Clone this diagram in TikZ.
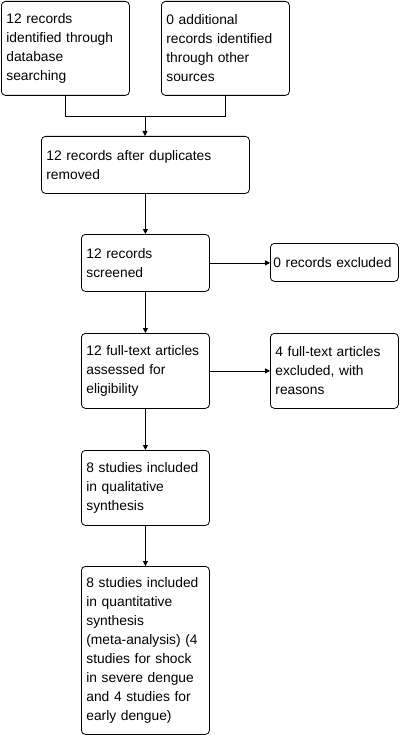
\documentclass[tikz,border=0pt]{standalone}
\usepackage{fontspec}
\setmainfont{Liberation Sans}
\usepackage{tikz}
\usetikzlibrary{arrows.meta}
\usetikzlibrary{positioning}
\hyphenpenalty=10000

\begin{document}
\begin{tikzpicture}[
x=1pt,y=-1pt,
MyBoxes/.style={draw=black,line width=0.8pt,rounded corners=4pt,anchor=north west,align=left,inner xsep=5pt,inner ysep=2pt,text width=#1,font=\fontsize{13.8}{19}\selectfont},
MyBoxes/.default=118pt,
Links/.style={draw=black,line width=0.8pt},
MyArrows/.style={Links,-{Triangle[length=5pt,width=5pt]}}
]
%\draw[gray,dotted] (0,0) grid[step=20pt] (402,738);
\useasboundingbox (0,0) rectangle (402,738);

\node[MyBoxes,minimum height=94pt] (ident) at (1,1) {12 records\\identified through\\database\\searching};
\node[MyBoxes,minimum height=94pt] (other) at (161,1) {0 additional\\records identified\\through other\\sources};

\coordinate (join) at (145,116);

\node[MyBoxes=198pt,minimum height=57pt] (dedup) at (41,136) {12 records after duplicates\\removed};
\node[MyBoxes,minimum height=57pt] (screen) at (81,234) {12 records\\screened};
\node[MyBoxes=122pt,inner xsep=3pt,minimum height=38pt] (excl) at (270,243) {0 records excluded};
\node[MyBoxes,minimum height=75pt] (fulltext) at (81,333) {12 full-text articles\\assessed for\\eligibility};
\node[MyBoxes,minimum height=75pt] (fullexcl) at (270,333) {4 full-text articles\\excluded, with\\reasons};
\node[MyBoxes,minimum height=75pt] (qual) at (81,450) {8 studies included\\in qualitative\\synthesis};
\node[MyBoxes,minimum height=168pt] (quant) at (81,566) {8 studies included\\in quantitative\\synthesis\\(meta-analysis) (4\\studies for shock\\in severe dengue\\and 4 studies for\\early dengue)};

\draw[Links] (ident.south) |- (join);
\draw[Links] (other.south) |- (join);
\draw[MyArrows] (join) -- (join |- dedup.north);

\draw[MyArrows] (dedup.south) -- (dedup.south |- screen.north);
\draw[MyArrows] (screen.east) -- (screen.east -| excl.west);
\draw[MyArrows] (screen.south) -- (fulltext.north);
\draw[MyArrows] (fulltext.east) -- (fulltext.east -| fullexcl.west);
\draw[MyArrows] (fulltext.south) -- (qual.north);
\draw[MyArrows] (qual.south) -- (quant.north);

\end{tikzpicture}
\end{document}
